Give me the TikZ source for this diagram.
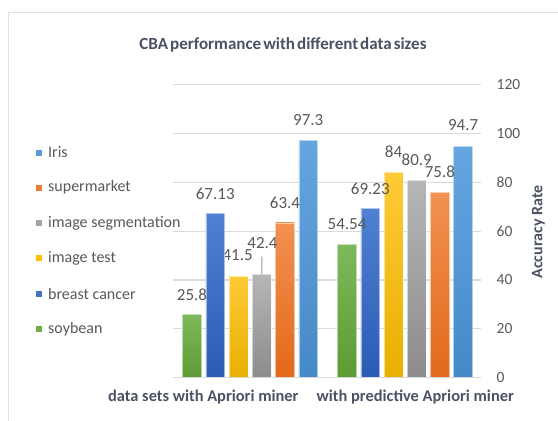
\documentclass[tikz,border=0pt]{standalone}
\usepackage{fontspec}
\setmainfont{Carlito}
\definecolor{txt}{HTML}{595959}
\definecolor{dark}{HTML}{4A5363}
\definecolor{gridc}{HTML}{D9D9D9}
\definecolor{framec}{HTML}{DDE1E6}
\definecolor{gT}{HTML}{7DB95B}\definecolor{gB}{HTML}{5C9B33}\definecolor{gM}{HTML}{70AD47}
\definecolor{bT}{HTML}{5080D2}\definecolor{bB}{HTML}{2C5BB5}\definecolor{bM}{HTML}{4472C4}
\definecolor{yT}{HTML}{FFCA38}\definecolor{yB}{HTML}{E8B000}\definecolor{yM}{HTML}{FFC000}
\definecolor{sT}{HTML}{B6B6B6}\definecolor{sB}{HTML}{8C8C8C}\definecolor{sM}{HTML}{A5A5A5}
\definecolor{oT}{HTML}{F29152}\definecolor{oB}{HTML}{E2691A}\definecolor{oM}{HTML}{ED7D31}
\definecolor{lT}{HTML}{65A6E0}\definecolor{lB}{HTML}{4589C6}\definecolor{lM}{HTML}{5B9BD5}
\newcommand{\myyz}{377.5}
\newcommand{\mysc}{2.44}
\newcommand{\mybw}{18.8}
\begin{document}
\begin{tikzpicture}[x=1pt,y=-1pt,
  gridline/.style={gridc,line width=1.2pt},
  ticklab/.style={anchor=west,text=txt,font=\fontsize{15.5}{15.5}\selectfont,inner sep=0pt},
  datalab/.style={text=txt,font=\fontsize{17}{17}\selectfont,inner sep=0pt},
  legtext/.style={anchor=west,text=txt,font=\fontsize{16}{16}\selectfont,inner sep=0pt},
  catlab/.style={text=dark,font=\bfseries\fontsize{16.4}{16.4}\selectfont,inner sep=0pt},
  barline/.style={draw=white,draw opacity=0.55,line width=0.5pt}]
\useasboundingbox (0,0) rectangle (558,421);
\clip (0,0) rectangle (558,421);
\fill[white] (0,0) rectangle (558,421);
\draw[framec,line width=1.5pt] (8.5,12.5) rectangle (575,440);
% title
\node[text=dark,font=\bfseries\fontsize{17}{17}\selectfont,inner sep=0pt] (title) at (283,45)
  {\spaceskip=0.12em CBA performance with different data sizes};
% gridlines and tick labels
\foreach \v in {0,20,...,120}{
  \draw[gridline] (173.3,{\myyz-\v*\mysc}) -- (481,{\myyz-\v*\mysc});
  \node[ticklab] (t\v) at (496.5,{\myyz-\v*\mysc}) {\v};
}
\node[rotate=90,text=dark,font=\bfseries\fontsize{16}{16}\selectfont,inner sep=0pt] (ytitle) at (538.5,232) {Accuracy Rate};
% label partly hidden behind the breast cancer bar
\node[datalab] (la3) at (237.7,255.5) {41.5};
% bars: left x, value, top colour, bottom colour, name
\newcommand{\mybar}[5]{%
  \shade[top color=#3,bottom color=#4,barline] (#1,\myyz) rectangle ({#1+\mybw},{\myyz-#2*\mysc});
  \coordinate (#5top) at ({#1+\mybw/2},{\myyz-#2*\mysc});}
\mybar{182.6}{25.8}{gT}{gB}{a1}
\mybar{205.85}{67.13}{bT}{bB}{a2}
\mybar{229.1}{41.5}{yT}{yB}{a3}
\mybar{252.35}{42.4}{sT}{sB}{a4}
\mybar{275.6}{63.4}{oT}{oB}{a5}
\mybar{298.85}{97.3}{lT}{lB}{a6}
\mybar{337.7}{54.54}{gT}{gB}{b1}
\mybar{360.9}{69.23}{bT}{bB}{b2}
\mybar{384.1}{84}{yT}{yB}{b3}
\mybar{407.3}{80.9}{sT}{sB}{b4}
\mybar{430.5}{75.8}{oT}{oB}{b5}
\mybar{453.7}{94.7}{lT}{lB}{b6}
% redraw zero line over bars
\draw[gridline] (173.3,\myyz) -- (481,\myyz);
% data labels
\node[datalab] (la1) at ([yshift=20pt]a1top) {25.8};
\node[datalab] (la2) at ([yshift=20pt]a2top) {67.13};
\node[datalab] (la4) at (262.5,243.3) {42.4};
\coordinate (la4lead) at (262,256.7);
\draw[sB!85,line width=1pt] (la4lead) -- (a4top);
\node[datalab] (la5) at ([yshift=20pt]a5top) {63.4};
\node[datalab] (la6) at ([yshift=20pt]a6top) {97.3};
\node[datalab] (lb1) at ([yshift=20pt]b1top) {54.54};
\node[datalab] (lb2) at ([yshift=20pt]b2top) {69.23};
\node[datalab] (lb3) at ([yshift=21pt]b3top) {84};
\node[datalab] (lb4) at ([yshift=20pt]b4top) {80.9};
\node[datalab] (lb5) at ([yshift=21pt]b5top) {75.8};
\node[datalab] (lb6) at ([yshift=21pt]b6top) {94.7};
% category labels
\node[catlab] (c1) at (203.3,397) {data sets with Apriori miner};
\node[catlab] (c2) at (415.3,397) {with predictive Apriori miner};
% legend
\foreach \n/\c/\y in {Iris/lM/152.5,supermarket/oM/187.5,image segmentation/sM/223,image test/yM/258,breast cancer/bM/294,soybean/gM/329}{
  \fill[\c] (36,{\y-3}) rectangle (42,{\y+3});
  \node[legtext] at (48,\y) {\n};
}
\end{tikzpicture}
\end{document}
